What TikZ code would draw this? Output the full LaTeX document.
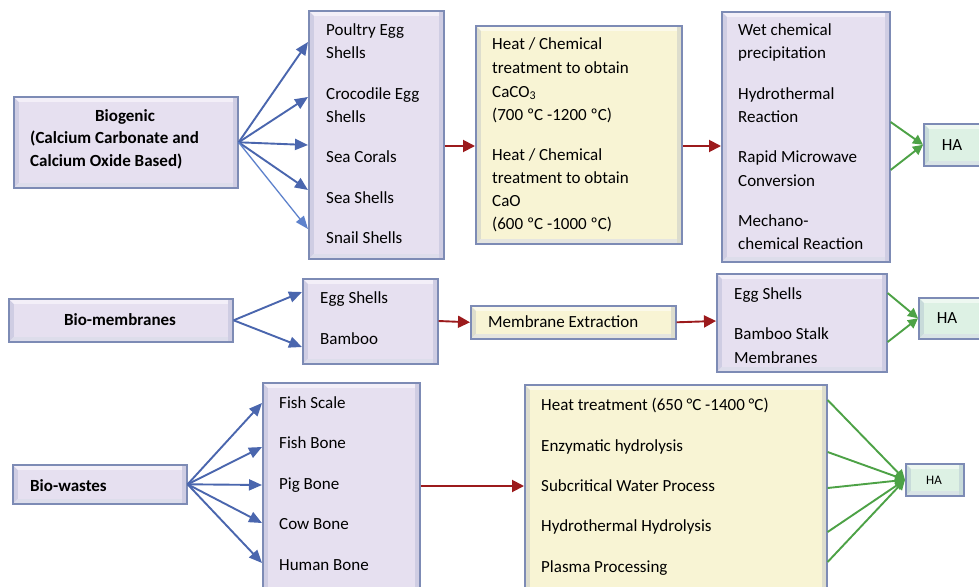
\documentclass[tikz,border=0pt]{standalone}
\usepackage{fontspec}
\setmainfont{Carlito}
\usetikzlibrary{arrows.meta}
\definecolor{lav}{HTML}{E6E0F0}
\definecolor{cream}{HTML}{F8F4D4}
\definecolor{mint}{HTML}{DDF1E4}
\definecolor{bord}{HTML}{7D8BB5}
\definecolor{arblue}{HTML}{4A66AE}
\definecolor{arblue2}{HTML}{5E82CC}
\definecolor{arred}{HTML}{9C1A1C}
\definecolor{argreen}{HTML}{4DA246}
\begin{document}
\begin{tikzpicture}[x=1pt,y=-1pt,
  bx/.style={draw=bord, line width=1.6pt, fill=#1, inner sep=0pt, anchor=north west,
    path picture={
      \fill[#1!78!bord] (path picture bounding box.south west) rectangle (path picture bounding box.north east);
      \fill[white!50!#1] (path picture bounding box.north west) -- ++(5pt,-5pt) -| ([shift={(-5pt,0pt)}]path picture bounding box.north east) -- (path picture bounding box.north east) -- cycle;
      \fill[#1!70!bord!60!white] (path picture bounding box.south west) -- ++(5pt,5pt) -| ([shift={(-5pt,0pt)}]path picture bounding box.south east) -- (path picture bounding box.south east) -- cycle;
      \fill[#1] ([shift={(5pt,-5pt)}]path picture bounding box.north west) rectangle ([shift={(-5pt,5pt)}]path picture bounding box.south east);
    }},
  txt/.style={inner sep=0pt, anchor=base west, font=\fontsize{17}{23}\selectfont},
  btxt/.style={txt, font=\fontsize{17}{23}\selectfont\bfseries},
  barrow/.style={draw=arblue, line width=1.9pt, -{Triangle[length=13pt,width=11pt]}},
  barrowthin/.style={draw=arblue2, line width=1.3pt, -{Triangle[length=13pt,width=10pt]}},
  rarrow/.style={draw=arred, line width=1.9pt, -{Triangle[length=12pt,width=12pt]}},
  garrow/.style={draw=argreen, line width=1.9pt, -{Triangle[length=10pt,width=10pt]}}
]
\useasboundingbox (0,0) rectangle (979,586);
\fill[white] (0,0) rectangle (979,586);

% ---------------- Row 1 ----------------
\node[bx=lav, minimum width=224pt, minimum height=91pt] (bio1) at (13,96) {};
\node[btxt, anchor=base] (bio1a) at (125,121) {Biogenic};
\node[btxt] (bio1b) at (30,143) {(Calcium Carbonate and};
\node[btxt] (bio1c) at (30,166) {Calcium Oxide Based)};

\node[bx=lav, minimum width=135pt, minimum height=248pt] (src1) at (308,10) {};
\node[txt] (s1a) at (326,36) {Poultry Egg};
\node[txt] (s1b) at (326,59) {Shells};
\node[txt] (s1c) at (326,99) {Crocodile Egg};
\node[txt] (s1d) at (326,122) {Shells};
\node[txt] (s1e) at (326,162) {Sea Corals};
\node[txt] (s1f) at (326,203) {Sea Shells};
\node[txt] (s1g) at (326,243) {Snail Shells};

\node[bx=cream, minimum width=206pt, minimum height=218pt] (y1) at (475,25) {};
\node[txt] (y1a) at (492,50) {Heat / Chemical};
\node[txt] (y1b) at (492,74) {treatment to obtain};
\node[txt] (y1c) at (492,97) {CaCO\textsubscript{3}};
\node[txt] (y1d) at (492,120) {(700 ºC -1200 ºC)};
\node[txt] (y1e) at (492,160) {Heat / Chemical};
\node[txt] (y1f) at (492,183) {treatment to obtain};
\node[txt] (y1g) at (492,206) {CaO};
\node[txt] (y1h) at (492,229) {(600 ºC -1000 ºC)};

\node[bx=lav, minimum width=168pt, minimum height=250pt] (p1) at (721,11) {};
\node[txt] (p1a) at (738,36) {Wet chemical};
\node[txt] (p1b) at (738,59) {precipitation};
\node[txt] (p1c) at (738,99) {Hydrothermal};
\node[txt] (p1d) at (738,122) {Reaction};
\node[txt] (p1e) at (738,162) {Rapid Microwave};
\node[txt] (p1f) at (738,186) {Conversion};
\node[txt] (p1g) at (738,226) {Mechano-};
\node[txt] (p1h) at (738,249) {chemical Reaction};

\node[bx=mint, minimum width=70pt, minimum height=42pt] (ha1) at (923,123) {};
\node[txt, anchor=base] (ha1t) at (952,150) {HA};

\draw[barrow] (bio1.east) -- (src1.west |- 0,42);
\draw[barrow] (bio1.east) -- (src1.west |- 0,97);
\draw[barrow] (bio1.east) -- (src1.west |- 0,145);
\draw[barrow] (bio1.east) -- (src1.west |- 0,190);
\draw[barrowthin] (bio1.east) -- (src1.west |- 0,229);
\draw[rarrow] (src1.east |- 0,146) -- (y1.west |- 0,146);
\draw[rarrow] (y1.east |- 0,146) -- (p1.west |- 0,146);
\draw[garrow] (p1.east |- 0,122) -- (ha1.west);
\draw[garrow] (p1.east |- 0,170) -- (ha1.west);

% ---------------- Row 2 ----------------
\node[bx=lav, minimum width=224pt, minimum height=43pt] (bm) at (8,298) {};
\node[btxt, anchor=base] (bmt) at (120,325) {Bio-membranes};

\node[bx=lav, minimum width=135pt, minimum height=85pt] (src2) at (302,278) {};
\node[txt] (s2a) at (320,303) {Egg Shells};
\node[txt] (s2b) at (320,344) {Bamboo};

\node[bx=cream, minimum width=205pt, minimum height=33pt] (mem) at (470,305) {};
\node[txt] (memt) at (488,327) {Membrane Extraction};

\node[bx=lav, minimum width=170pt, minimum height=98pt] (p2) at (716,273) {};
\node[txt] (p2a) at (734,299) {Egg Shells};
\node[txt] (p2b) at (734,339) {Bamboo Stalk};
\begin{scope}
\clip (716,273) rectangle (886,362);
\node[txt] (p2c) at (734,363) {Membranes};
\end{scope}

\node[bx=mint, minimum width=70pt, minimum height=41pt] (ha2) at (918,297) {};
\node[txt, anchor=base] (ha2t) at (947,323) {HA};

\draw[barrow] (bm.east) -- (src2.west |- 0,292);
\draw[barrow] (bm.east) -- (src2.west |- 0,347);
\draw[rarrow] (src2.east |- 0,321) -- (mem.west);
\draw[rarrow] (mem.east) -- (p2.west |- 0,321);
\draw[garrow] (p2.east |- 0,293) -- (ha2.west);
\draw[garrow] (p2.east |- 0,342) -- (ha2.west);

% ---------------- Row 3 ----------------
\node[bx=lav, minimum width=174pt, minimum height=39pt] (bw) at (12,464) {};
\node[btxt] (bwt) at (30,491) {Bio-wastes};

\node[bx=lav, minimum width=157pt, minimum height=210pt] (src3) at (262,382) {};
\node[txt] (s3a) at (279,408) {Fish Scale};
\node[txt] (s3b) at (279,448) {Fish Bone};
\node[txt] (s3c) at (279,489) {Pig Bone};
\node[txt] (s3d) at (279,529) {Cow Bone};
\node[txt] (s3e) at (279,570) {Human Bone};

\node[bx=cream, minimum width=302pt, minimum height=208pt] (y3) at (524,384) {};
\node[txt] (y3a) at (541,410) {Heat treatment (650 °C -1400 °C)};
\node[txt] (y3b) at (541,451) {Enzymatic hydrolysis};
\node[txt] (y3c) at (541,491) {Subcritical Water Process};
\node[txt] (y3d) at (541,531) {Hydrothermal Hydrolysis};
\node[txt] (y3e) at (541,572) {Plasma Processing};

\node[bx=mint, minimum width=58pt, minimum height=32pt] (ha3) at (905,463) {};
\node[txt, anchor=base, font=\fontsize{13}{15}\selectfont] (ha3t) at (934,484) {HA};

\draw[barrow] (bw.east) -- (src3.west |- 0,403);
\draw[barrow] (bw.east) -- (src3.west |- 0,447);
\draw[barrow] (bw.east) -- (src3.west |- 0,485);
\draw[barrow] (bw.east) -- (src3.west |- 0,523);
\draw[barrow] (bw.east) -- (src3.west |- 0,563);
\draw[rarrow] (src3.east |- 0,486) -- (y3.west |- 0,486);
\draw[garrow] (y3.east |- 0,400) -- (ha3.west);
\draw[garrow] (y3.east |- 0,452) -- (ha3.west);
\draw[garrow] (y3.east |- 0,488) -- (ha3.west);
\draw[garrow] (y3.east |- 0,532) -- (ha3.west);
\draw[garrow] (y3.east |- 0,562) -- (ha3.west);
\end{tikzpicture}
\end{document}
